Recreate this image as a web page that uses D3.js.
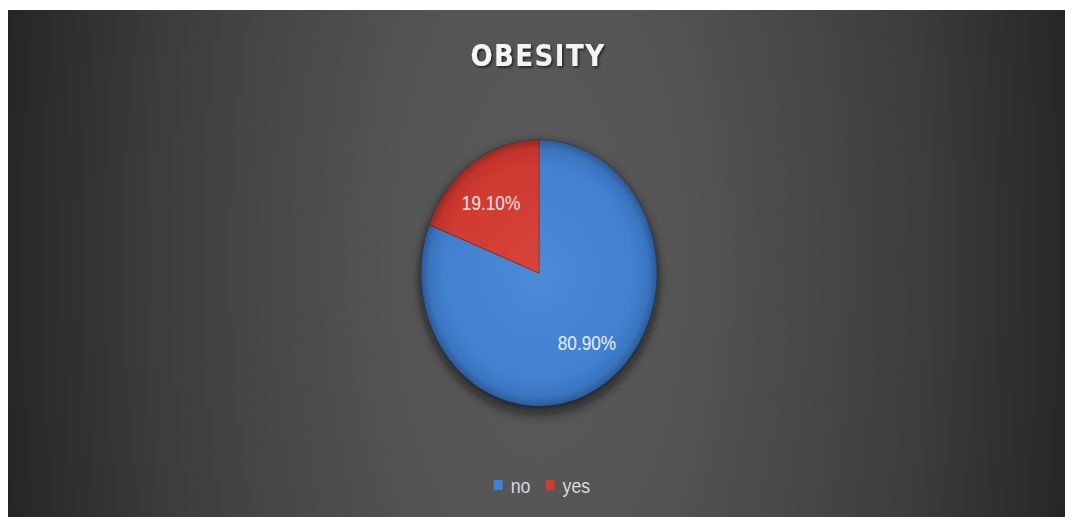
<!DOCTYPE html>
<html>
<head>
<meta charset="utf-8">
<script src="https://cdn.jsdelivr.net/npm/d3@7"></script>
<style>
  html, body { margin: 0; padding: 0; background: #ffffff; }
  svg { display: block; }
</style>
</head>
<body>
<svg id="chart" width="1065" height="517"></svg>
<script>
// Obesity share of respondents
const categories = ["no", "yes"];
const values = [80.9, 19.1];
const labels = ["80.90%", "19.10%"];
const chartTitle = "OBESITY";

const W = 1065, H = 517;
const svg = d3.select("#chart");
const defs = svg.append("defs");

// background: dark panel, light in the middle and fading to the sides
const bg = defs.append("radialGradient")
  .attr("id", "bgGrad")
  .attr("gradientUnits", "userSpaceOnUse")
  .attr("cx", 540).attr("cy", 260).attr("r", 540)
  .attr("gradientTransform", "translate(540,260) scale(1,2.2) translate(-540,-260)");
[[0, "#5a5a5a"], [0.28, "#545454"], [0.72, "#3c3c3c"], [1, "#262626"]]
  .forEach(([o, c]) => bg.append("stop").attr("offset", o).attr("stop-color", c));

svg.append("rect")
  .attr("x", 8).attr("y", 10)
  .attr("width", W - 8).attr("height", H - 10)
  .attr("fill", "url(#bgGrad)");

// slice colours and soft 3D shading
const color = d3.scaleOrdinal().domain(categories).range(["#4281cf", "#cf3a31"]);
const shade = {
  no:  [[0, "#4a8ad6"], [0.8, "#4281cf"], [0.93, "#3b74bf"], [1, "#2c5a97"]],
  yes: [[0, "#d6443a"], [0.8, "#cf3a31"], [0.93, "#c2342c"], [1, "#9a2822"]]
};
categories.forEach(c => {
  const g = defs.append("radialGradient")
    .attr("id", "slice-" + c)
    .attr("gradientUnits", "userSpaceOnUse")
    .attr("cx", 0).attr("cy", 0).attr("r", 118);
  shade[c].forEach(([o, col]) => g.append("stop").attr("offset", o).attr("stop-color", col));
});

const blur = defs.append("filter").attr("id", "shadow")
  .attr("x", "-30%").attr("y", "-30%").attr("width", "160%").attr("height", "160%");
blur.append("feGaussianBlur").attr("stdDeviation", 5);

const titleShadow = defs.append("filter").attr("id", "titleShadow");
titleShadow.append("feDropShadow")
  .attr("dx", 1.5).attr("dy", 1.5).attr("stdDeviation", 1)
  .attr("flood-color", "#000").attr("flood-opacity", 0.6);

// title
svg.append("text")
  .attr("transform", "translate(538,66) scale(1,1.13)")
  .attr("text-anchor", "middle")
  .attr("font-family", "DejaVu Sans")
  .attr("font-weight", "bold")
  .attr("font-size", 26)
  .attr("letter-spacing", 1.5)
  .attr("fill", "#f4f4f4")
  .attr("filter", "url(#titleShadow)")
  .text(chartTitle);

// pie
const R = 118;
const cx = 539, cy = 273, sy = 1.13;
const pie = d3.pie().sort(null).value(d => d.value);
const data = categories.map((c, i) => ({ cat: c, value: values[i], label: labels[i] }));
const arcs = pie(data);
const arc = d3.arc().innerRadius(0).outerRadius(R);

const pg = svg.append("g").attr("transform", `translate(${cx},${cy}) scale(1,${sy})`);

pg.append("ellipse")
  .attr("cx", 0).attr("cy", 5).attr("rx", R + 1).attr("ry", R + 1)
  .attr("fill", "#111").attr("opacity", 0.7)
  .attr("filter", "url(#shadow)");

pg.selectAll("path.slice")
  .data(arcs)
  .join("path")
  .attr("class", "slice")
  .attr("d", arc)
  .attr("fill", d => `url(#slice-${d.data.cat})`)
  .attr("stroke", "rgba(20,30,50,0.35)")
  .attr("stroke-width", 0.8);

// data labels, condensed to fit the slice
const labelArc = d3.arc().innerRadius(0).outerRadius(R * 1.44);
svg.append("g")
  .selectAll("text")
  .data(arcs)
  .join("text")
  .attr("transform", d => {
    const [x, y] = labelArc.centroid(d);
    return `translate(${cx + x},${cy + y}) scale(0.82,1)`;
  })
  .attr("text-anchor", "middle")
  .attr("dominant-baseline", "central")
  .attr("font-family", "Liberation Sans, sans-serif")
  .attr("font-size", 21)
  .attr("fill", d => d.data.cat === "yes" ? "#f6e6e4" : "#e9f0f8")
  .text(d => d.data.label);

// legend
const legend = svg.append("g");
const items = legend.selectAll("g")
  .data(categories)
  .join("g");
items.append("rect")
  .attr("width", 9).attr("height", 10)
  .attr("y", -5)
  .attr("fill", d => color(d));
items.append("text")
  .attr("x", 17)
  .attr("dominant-baseline", "central")
  .attr("transform", "scale(0.85,1)")
  .attr("font-family", "Liberation Sans, sans-serif")
  .attr("font-size", 21)
  .attr("fill", "#d9d9d9")
  .text(d => d);

let offset = 0;
items.each(function () {
  d3.select(this).attr("transform", `translate(${offset},0)`);
  const tw = d3.select(this).select("text").node().getComputedTextLength() * 0.85;
  offset += 19 + tw + 13;
});
const totalW = offset - 13;
legend.attr("transform", `translate(${543 - totalW / 2},485)`);
items.select("text").attr("x", 17 / 0.85);
</script>
</body>
</html>
